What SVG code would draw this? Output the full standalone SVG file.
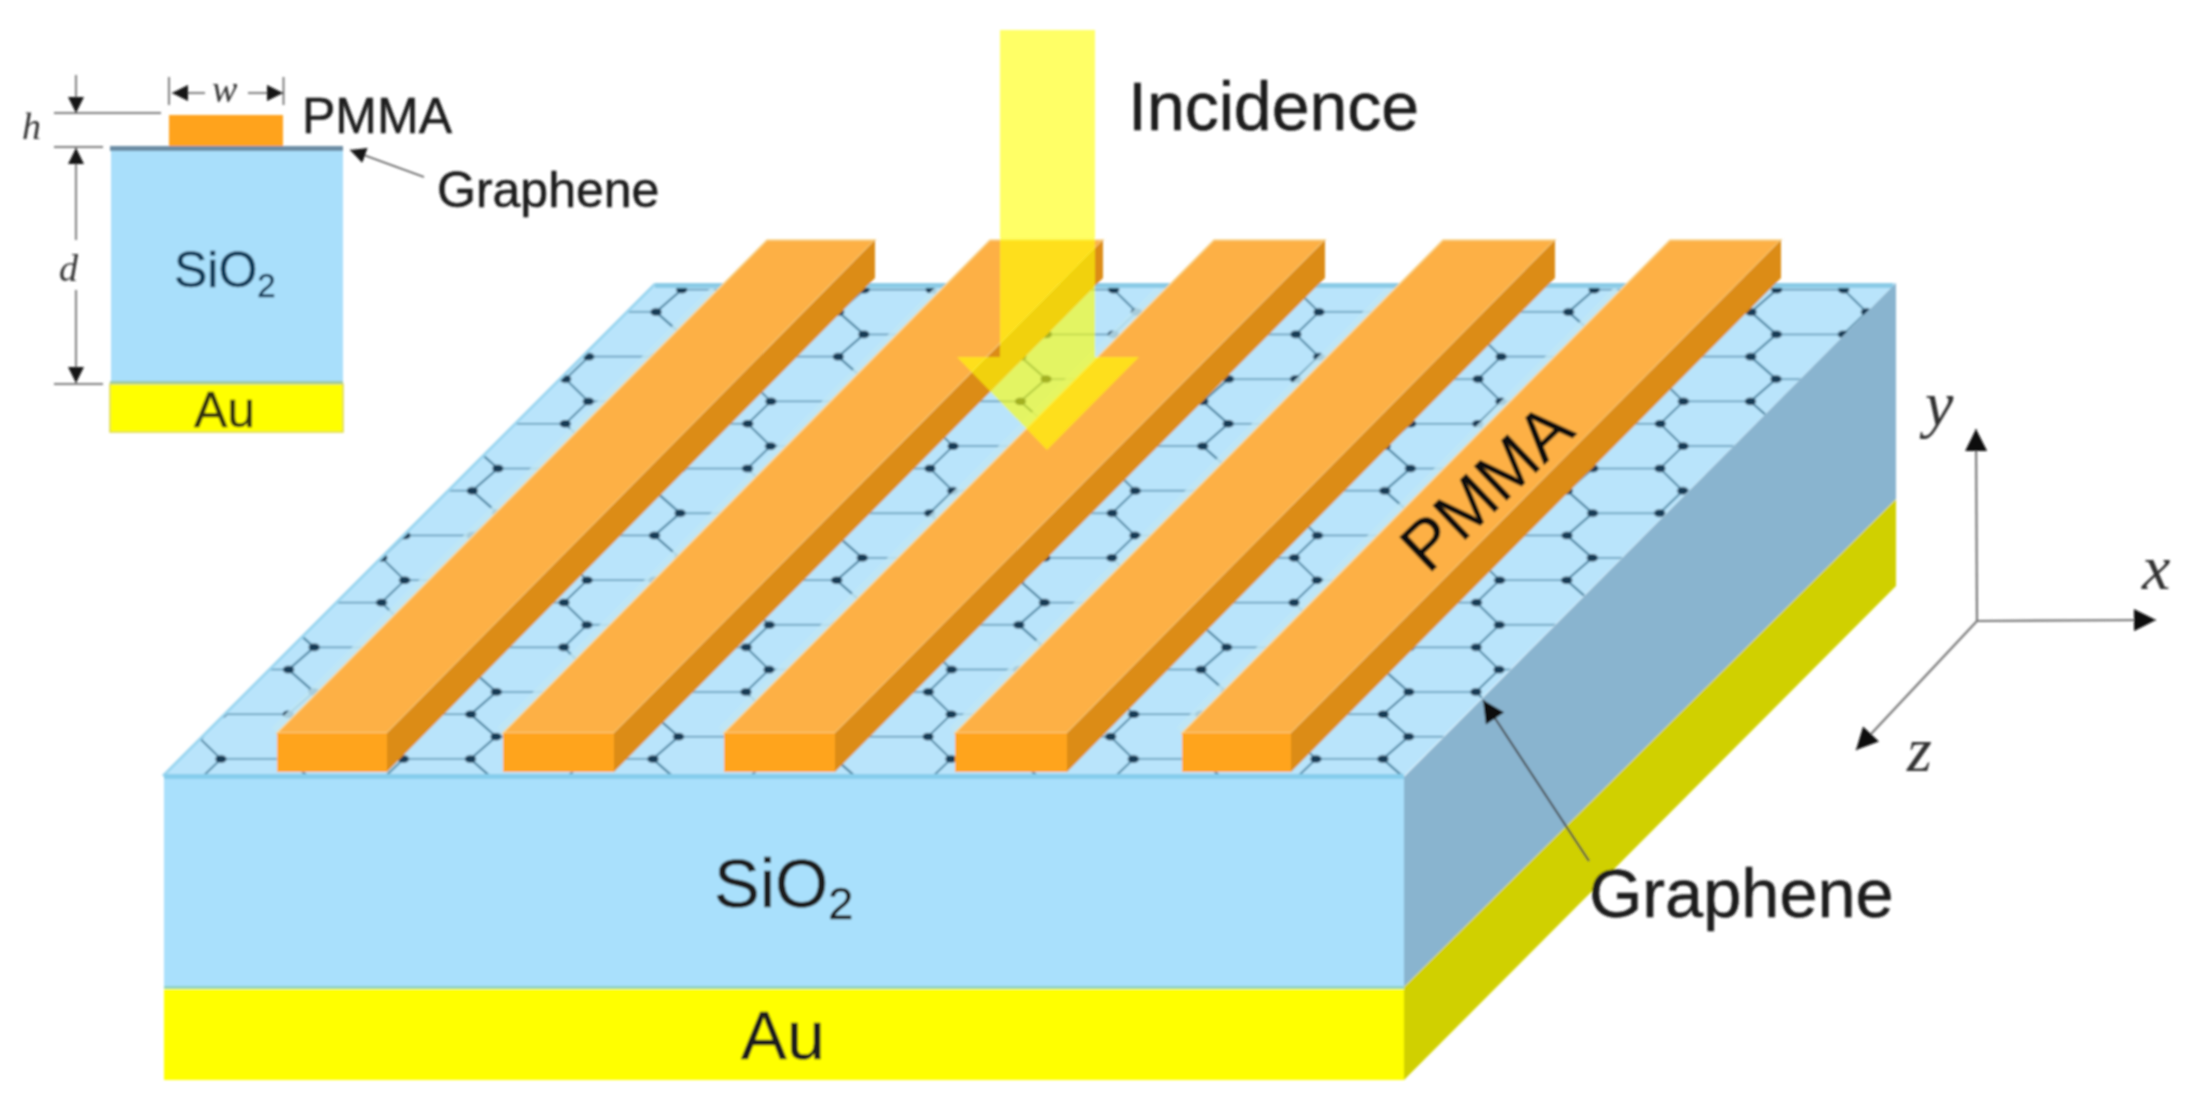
<svg xmlns="http://www.w3.org/2000/svg" width="2195" height="1110" viewBox="0 0 2195 1110">
<style>
text{font-family:"Liberation Sans",Arial,sans-serif;fill:#1d1d1d;stroke:#1d1d1d;stroke-width:0.5}
.it{font-family:"Liberation Serif","Times New Roman",serif;font-style:italic;fill:#333;stroke:none}
.big{font-size:68.500px}
.small{font-size:50px}
.top{fill:#fdb044;stroke:#f8d58c;stroke-width:1.5}
.front{fill:#ffa41f}
.side{fill:#dc8c14}
.halo{stroke:#c0e6f4;stroke-width:15;fill:none;stroke-opacity:0.85}
.dim{stroke:#555;stroke-width:1.5;fill:none}
.ax{stroke:#777;stroke-width:2.2;fill:none}
.ld{stroke:#444;stroke-width:2;fill:none}
</style>
<defs>
<filter id="soft" filterUnits="userSpaceOnUse" x="0" y="0" width="2195" height="1110"><feGaussianBlur stdDeviation="0.8"/></filter>
<marker id="ah" viewBox="0 0 10 10" refX="10" refY="5" markerUnits="userSpaceOnUse" markerWidth="16" markerHeight="16" orient="auto"><path d="M0 0L10 5L0 10z" fill="#161616"/></marker>
<marker id="am" viewBox="0 0 10 10" refX="10" refY="5" markerUnits="userSpaceOnUse" markerWidth="24" markerHeight="22" orient="auto"><path d="M0 0L10 5L0 10z" fill="#111"/></marker>
<pattern id="hex" patternUnits="userSpaceOnUse" width="182.5" height="44.7" patternTransform="translate(191 747.825) skewX(-0.4)">
<path d="M30 11.175H97M122.5 33.525H182.500M0 33.525H7" fill="none" stroke="#5a93b1" stroke-width="1.6"/>
<path d="M97 11.175L122.5 33.525M97 11.175L122.5 -11.175M30 11.175L7 33.525M30 11.175L7 -11.175M122.5 33.525L97 55.875M7 33.525L30 55.875" fill="none" stroke="#33708f" stroke-width="1.7"/>
<g fill="#173a55"><ellipse cx="30" cy="11.175" rx="5.5" ry="3.8"/><ellipse cx="97" cy="11.175" rx="5.5" ry="3.8"/><ellipse cx="122.5" cy="33.525" rx="5.5" ry="3.8"/><ellipse cx="7" cy="33.525" rx="5.5" ry="3.8"/></g>
</pattern>
</defs>
<rect width="2195" height="1110" fill="#fff"/>
<g filter="url(#soft)">
<g id="substrate">
<polygon points="163,776 1404,776 1896,283 655,283" fill="#b9e4fb"/>
<polygon points="163,776 1404,776 1896,283 655,283" fill="url(#hex)"/>
<path class="halo" d="M277 733L717 292M503 733L941 292M724 733L1162 292M955 733L1393 292M1182 733L1620 292"/>
<path d="M163 776L655 284" fill="none" stroke="#9bd6f0" stroke-width="3"/>
<path d="M655 285.500H1893" fill="none" stroke="#8acbe6" stroke-width="5"/>
<polygon points="1404,777 1896,283 1896,499 1404,987" fill="#89b4cf"/>
<polygon points="1404,987 1896,499 1896,586 1404,1080" fill="#d0d000"/>
<rect x="164" y="776" width="1240" height="211" fill="#a9e0fc"/>
<rect x="164" y="774" width="1240" height="5" fill="#86cdec"/>
<rect x="164" y="987" width="1240" height="93" fill="#ffff00"/>
<rect x="164" y="986" width="1240" height="3" fill="#8fd3c0"/>
</g>
<g id="stripe1"><polygon class="top" points="277,733 387,733 875,240 767,240"/><polygon class="side" points="387,733 387,772 875,278 875,240"/><rect class="front" x="277" y="733" width="110" height="39"/></g>
<g id="stripe2"><polygon class="top" points="503,733 614,733 1103,240 990,240"/><polygon class="side" points="614,733 614,772 1103,278 1103,240"/><rect class="front" x="503" y="733" width="111" height="39"/></g>
<g id="stripe3"><polygon class="top" points="724,733 835,733 1325,240 1214,240"/><polygon class="side" points="835,733 835,772 1325,278 1325,240"/><rect class="front" x="724" y="733" width="111" height="39"/></g>
<g id="stripe4"><polygon class="top" points="955,733 1067,733 1555,240 1443,240"/><polygon class="side" points="1067,733 1067,772 1555,278 1555,240"/><rect class="front" x="955" y="733" width="112" height="39"/></g>
<g id="stripe5"><polygon class="top" points="1182,733 1291,733 1781,240 1670,240"/><polygon class="side" points="1291,733 1291,772 1781,278 1781,240"/><rect class="front" x="1182" y="733" width="109" height="39"/></g>
<g id="incidence-arrow"><polygon points="1000,30 1095,30 1095,357 1139,357 1047,450 957,357 1000,357" fill="#ffff00" fill-opacity="0.6"/></g>
<g id="labels">
<text class="big" x="1128" y="130" style="font-size:68px">Incidence</text>
<text class="big" x="714" y="907">SiO<tspan font-size="45" dy="12">2</tspan></text>
<text class="big" x="741" y="1059">Au</text>
<text class="big" x="1589" y="917">Graphene</text>
<text class="big" transform="translate(1428 575) rotate(-43.5)" style="fill:#111;stroke:#111">PMMA</text>
</g>
<g id="connectors">
<path class="ld" d="M1589 861L1483 700" marker-end="url(#am)"/>
<path class="ax" d="M1977 621L1976 429" marker-end="url(#am)"/>
<path class="ax" d="M1977 621L2156 620" marker-end="url(#am)"/>
<path class="ax" d="M1977 621L1856 750" marker-end="url(#am)"/>
<path class="dim" d="M424 177L350 150" stroke="#777" marker-end="url(#ah)"/>
<path class="dim" d="M76 75V113" marker-end="url(#ah)"/>
<path class="dim" d="M76 240V148" marker-end="url(#ah)"/>
<path class="dim" d="M76 290V383" marker-end="url(#ah)"/>
<path class="dim" d="M205 93H172" marker-end="url(#ah)"/>
<path class="dim" d="M248 93H283" marker-end="url(#ah)"/>
<path class="dim" stroke-width="1.2" d="M54 113H161M54 147H103M54 384H103M169 77V105M283.500 77V105"/>
</g>
<g id="axis-labels">
<text class="it" x="1925" y="425" font-size="64">y</text>
<text class="it" x="2142" y="589" font-size="64">x</text>
<text class="it" x="1907" y="771" font-size="64">z</text>
</g>
<g id="inset">
<rect x="111" y="150" width="232" height="233" fill="#a9dffb"/>
<rect x="110" y="146" width="233" height="5" fill="#6c8da5"/>
<rect x="110" y="384" width="233" height="48" fill="#ffff00" stroke="#ddd84a" stroke-width="1.500"/>
<rect x="110" y="381" width="233" height="3" fill="#9fcb9f"/>
<rect x="169" y="115" width="114" height="31" fill="#ffa31f"/>
<text class="small" x="302" y="133">PMMA</text>
<text class="small" x="437" y="207">Graphene</text>
<text class="small" x="174" y="287" style="fill:#0f3a58;stroke:#0f3a58">SiO<tspan font-size="33" dy="10">2</tspan></text>
<text class="small" x="194" y="427" style="fill:#33330e;stroke:#33330e">Au</text>
<text class="it" x="22" y="139" font-size="38">h</text>
<text class="it" x="59" y="281" font-size="38">d</text>
<text class="it" x="212" y="102" font-size="38">w</text>
</g>
</g>
</svg>
